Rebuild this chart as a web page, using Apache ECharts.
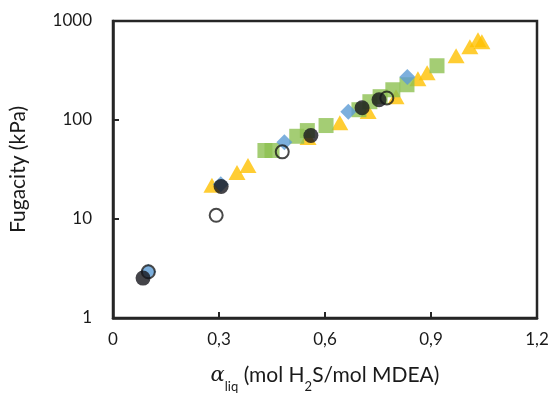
<!DOCTYPE html>
<html>
<head>
<meta charset="utf-8">
<script src="https://cdn.jsdelivr.net/npm/echarts@6/dist/echarts.min.js"></script>
<style>html,body{margin:0;padding:0;background:#fff;}#c{width:553px;height:398px;}</style>
</head>
<body>
<div id="c"></div>
<script>
var xTicks = [0, 0.3, 0.6, 0.9, 1.2];
var yTicks = [1, 10, 100, 1000];

var triX = [0.28, 0.351, 0.382, 0.552, 0.642, 0.722, 0.801, 0.863, 0.889, 0.971, 1.01, 1.033, 1.044];
var triY = [21.9, 29.5, 34.7, 66.5, 94, 122, 172, 261, 300, 445, 548, 645, 616];

var sqX = [0.43, 0.45, 0.52, 0.55, 0.603, 0.696, 0.727, 0.756, 0.792, 0.832, 0.917];
var sqY = [49.2, 49.2, 68.5, 78.2, 87.9, 127, 153, 172, 202, 227, 353];

var diaX = [0.1, 0.305, 0.485, 0.666, 0.833];
var diaY = [2.93, 22.5, 59.6, 121, 272];

var openX = [0.1, 0.292, 0.479, 0.775];
var openY = [2.93, 10.9, 47.7, 167];

var blackX = [0.085, 0.306, 0.56, 0.705, 0.753];
var blackY = [2.53, 21.3, 69.7, 133, 160];

function pairs(xs, ys) { return xs.map(function (x, i) { return [x, ys[i]]; }); }

var FONT = 'Lato';
var chart = echarts.init(document.getElementById('c'));
chart.setOption({
  animation: false,
  backgroundColor: '#fff',
  grid: { left: 113, right: 16, top: 21, bottom: 79, show: true, borderColor: '#262626', borderWidth: 2.5 },
  xAxis: {
    type: 'value', min: 0, max: 1.2, interval: 0.3,
    axisLine: { lineStyle: { color: '#262626', width: 2.5 } },
    axisTick: { inside: true, length: 6, lineStyle: { color: '#262626', width: 2 } },
    splitLine: { show: false },
    axisLabel: { fontFamily: FONT, fontSize: 17, color: '#1a1a1a', margin: 13,
      formatter: function (v) { return v === 0 ? '0' : v.toFixed(1).replace('.', ','); } },
    name: '{a|α}{s|liq}{n| (mol H}{s2|2}{n|S/mol MDEA)}',
    nameLocation: 'middle', nameGap: 47,
    nameTextStyle: {
      rich: {
        a: { fontFamily: 'DejaVu Serif', fontStyle: 'italic', fontSize: 21, color: '#1a1a1a' },
        s: { fontFamily: FONT, fontSize: 13, color: '#1a1a1a', verticalAlign: 'bottom', padding: [0, 0, -7, 0] },
        s2: { fontFamily: FONT, fontSize: 13, color: '#1a1a1a', verticalAlign: 'bottom', padding: [0, 0, -7, 0] },
        n: { fontFamily: FONT, fontSize: 21, color: '#1a1a1a' }
      }
    }
  },
  yAxis: {
    type: 'log', logBase: 10, min: 1, max: 1000,
    axisLine: { lineStyle: { color: '#262626', width: 2.5 } },
    axisTick: { inside: true, length: 6, lineStyle: { color: '#262626', width: 2 } },
    splitLine: { show: false },
    minorTick: { show: false },
    axisLabel: { fontFamily: FONT, fontSize: 17, color: '#1a1a1a', margin: 21,
      formatter: function (v) { return String(Math.round(v)); } },
    name: 'Fugacity (kPa)', nameLocation: 'middle', nameGap: 84,
    nameTextStyle: { fontFamily: FONT, fontSize: 21, color: '#1a1a1a' }
  },
  series: [
    { type: 'scatter', data: pairs(triX, triY), symbol: 'triangle', symbolSize: [17, 15],
      itemStyle: { color: '#FFC000' }, z: 2 },
    { type: 'scatter', data: pairs(sqX, sqY), symbol: 'rect', symbolSize: 15,
      itemStyle: { color: '#8DC151' }, z: 3 },
    { type: 'scatter', data: pairs(diaX, diaY), symbol: 'diamond', symbolSize: 16,
      itemStyle: { color: '#5B9BD5' }, z: 4 },
    { type: 'scatter', data: pairs(openX, openY), symbol: 'circle', symbolSize: 13,
      itemStyle: { color: 'rgba(255,255,255,0)', borderColor: '#1a1a1a', borderWidth: 2 }, z: 5 },
    { type: 'scatter', data: pairs(blackX, blackY), symbol: 'circle', symbolSize: 15,
      itemStyle: { color: '#15151c' }, z: 6 }
  ]
});
</script>
</body>
</html>
